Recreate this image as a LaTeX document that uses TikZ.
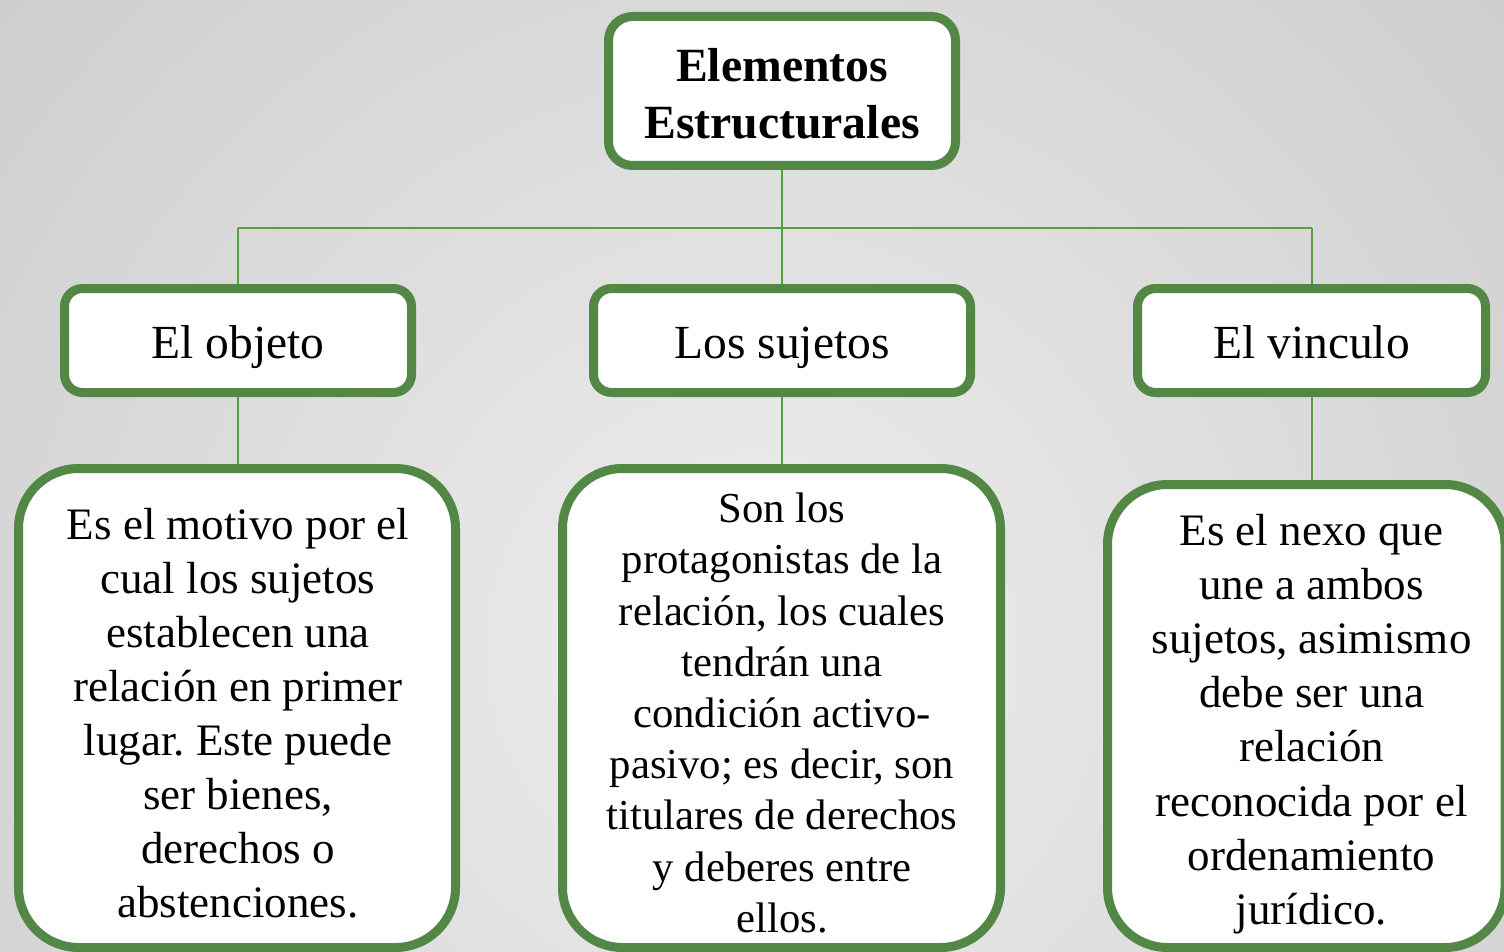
\documentclass[tikz,border=0pt]{standalone}
\usepackage{fontspec}
\setmainfont{Liberation Serif}
\frenchspacing
\definecolor{boxgreen}{RGB}{83,135,69}
\definecolor{linegreen}{RGB}{88,156,70}
\definecolor{bgin}{RGB}{238,238,238}
\definecolor{bgout}{RGB}{180,180,180}
\tikzset{
  topbox/.style={draw=boxgreen, line width=9pt, fill=white, rounded corners=24pt, inner sep=0pt},
  toptext/.style={align=center, inner sep=0pt, font=\fontsize{47.7}{57}\selectfont\bfseries},
  midbox/.style={draw=boxgreen, line width=9pt, fill=white, rounded corners=18pt, align=center, inner sep=0pt, minimum height=104pt, text height=38pt, text depth=3pt, font=\fontsize{47.5}{57}\selectfont},
  descbox/.style={draw=boxgreen, line width=9pt, fill=white, rounded corners=60pt, inner sep=0pt},
  desctext/.style={align=center, inner sep=0pt},
  conn/.style={draw=linegreen, line width=2pt}
}
\begin{document}
\begin{tikzpicture}[x=1pt,y=-1pt]
\useasboundingbox (0,0) rectangle (1504,952);
\begin{scope}
\clip (0,0) rectangle (1504,952);
\shade[inner color=bgin, outer color=bgout] (-1048,-1150) rectangle (2552,2450);
\coordinate (hl) at (238,228);
\coordinate (hm) at (782,228);
\coordinate (hr) at (1311.5,228);
\node[topbox, minimum width=347pt, minimum height=149pt] (top) at (782,91) {};
\node[toptext] (toptxt) at (782,94) {Elementos\\Estructurales};
\node[midbox, minimum width=347pt] (obj) at (238,340.5) {El objeto};
\node[midbox, minimum width=377pt] (suj) at (782,340.5) {Los sujetos};
\node[midbox, minimum width=348pt] (vin) at (1311.5,340.5) {El vinculo};
\draw[conn] (top.south) -- (hm);
\draw[conn] (hl) -- (hr);
\draw[conn] (hl) -- (obj.north);
\draw[conn] (hm) -- (suj.north);
\draw[conn] (hr) -- (vin.north);
\node[descbox, minimum width=437pt, minimum height=479pt] (dobj) at (237,708) {};
\node[desctext, font=\fontsize{45}{54}\selectfont] (dobjtxt) at (238,713)
  {Es el motivo por el\\cual los sujetos\\establecen una\\relación en primer\\lugar. Este puede\\ser bienes,\\derechos o\\abstenciones.};
\node[descbox, minimum width=438pt, minimum height=479pt] (dsuj) at (781.5,708) {};
\node[desctext, font=\fontsize{42.7}{51.2}\selectfont] (dsujtxt) at (782,713)
  {Son los\\protagonistas de la\\relación, los cuales\\tendrán una\\condición activo-\\pasivo; es decir, son\\titulares de derechos\\y deberes entre\\ellos.};
\node[descbox, minimum width=397.5pt, minimum height=463pt] (dvin) at (1306.25,716) {};
\node[desctext, font=\fontsize{45}{54.2}\selectfont] (dvintxt) at (1311.5,724)
  {Es el nexo que\\une a ambos\\sujetos, asimismo\\debe ser una\\relación\\reconocida por el\\ordenamiento\\jurídico.};
\draw[conn] (obj.south) -- (obj.south |- dobj.north);
\draw[conn] (suj.south) -- (suj.south |- dsuj.north);
\draw[conn] (vin.south) -- (vin.south |- dvin.north);
\end{scope}
\end{tikzpicture}
\end{document}
